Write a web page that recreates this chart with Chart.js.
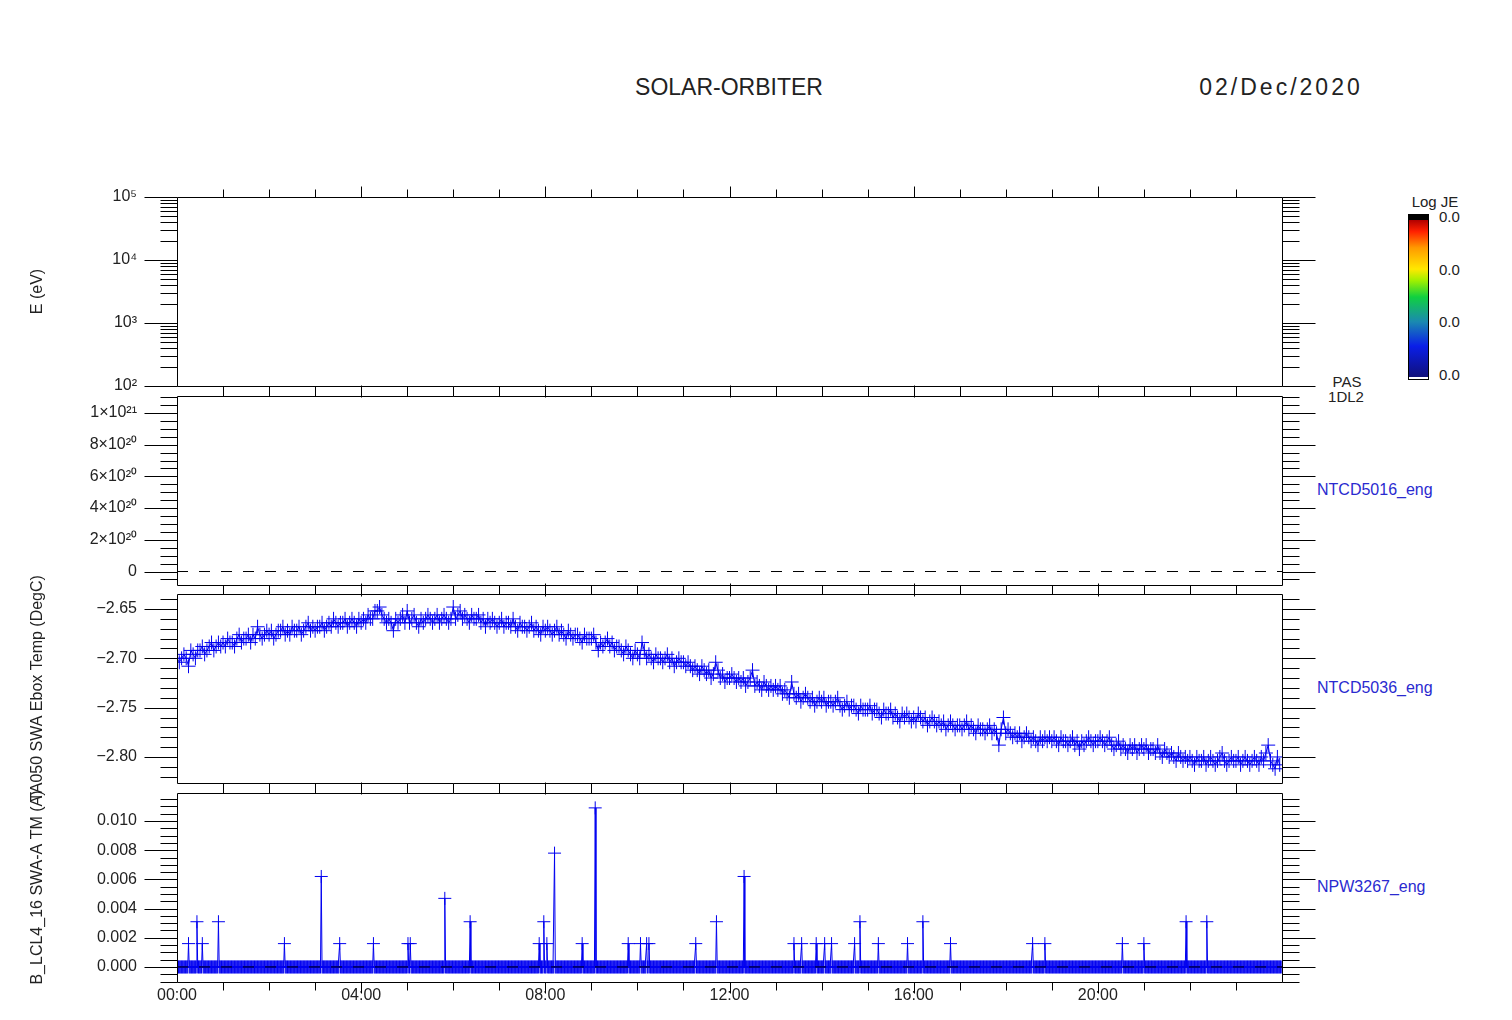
<!DOCTYPE html>
<html>
<head>
<meta charset="utf-8">
<script src="https://cdn.jsdelivr.net/npm/chart.js@4.4.0/dist/chart.umd.min.js"></script>
<style>
  body { margin:0; background:#fff; width:1512px; height:1020px; position:relative; overflow:hidden; font-family:'Liberation Sans', Arial, sans-serif; }
  canvas { position:absolute; left:0; top:0; }
  .txt { position:absolute; white-space:nowrap; color:#222; font-size:16px; transform:translate(-50%,-50%); }
  .lft { transform:translate(0,-50%); }
  .blue { color:#2a2ad0; }
  #cbar { position:absolute; left:1408px; top:214px; width:19px; height:164px; border:1px solid #000;
    background:linear-gradient(to top, #fff 0, #fff 2px, #10107a 2px, #0a1ee8 20%, #1a8ab0 35%, #10d040 50%, #a0f000 60%, #ffe800 67%, #ff9a00 80%, #ff2000 90%, #b00000 97%, #000 97%, #000 100%); }
</style>
</head>
<body>
<div class="txt" style="left:729px;top:87px;font-size:23px">SOLAR-ORBITER</div>
<div class="txt" style="left:1281px;top:87px;font-size:23px;letter-spacing:3px">02/Dec/2020</div>
<div class="txt" style="left:1435px;top:201px;font-size:15px">Log JE</div>
<div class="txt lft" style="left:1439px;top:216px;font-size:15px">0.0</div>
<div class="txt lft" style="left:1439px;top:269px;font-size:15px">0.0</div>
<div class="txt lft" style="left:1439px;top:321px;font-size:15px">0.0</div>
<div class="txt lft" style="left:1439px;top:374px;font-size:15px">0.0</div>
<div id="cbar"></div>
<div class="txt" style="left:1347px;top:381px;font-size:15px">PAS</div>
<div class="txt" style="left:1346px;top:396px;font-size:15px">1DL2</div>
<div class="txt lft blue" style="left:1317px;top:490px">NTCD5016_eng</div>
<div class="txt lft blue" style="left:1317px;top:688px">NTCD5036_eng</div>
<div class="txt lft blue" style="left:1317px;top:887px">NPW3267_eng</div>

<canvas id="c1" width="1512" height="1020"></canvas>
<canvas id="c2" width="1512" height="1020"></canvas>
<canvas id="c3" width="1512" height="1020"></canvas>
<canvas id="c4" width="1512" height="1020"></canvas>

<script>
// --- DATOS ---
const hourTicks = [0, 4, 8, 12, 16, 20];
const energyTicks = [1e2, 1e3, 1e4, 1e5];
const densityTicks = [0, 2e20, 4e20, 6e20, 8e20, 1e21];
const tempTicks = [-2.80, -2.75, -2.70, -2.65];
const currentTicks = [0, 0.002, 0.004, 0.006, 0.008, 0.010];

// NTCD5036: temperatura cada 3 min desde 00:00 (una fila por hora, valores cuantizados)
const tempStepMin = 3;
const tempValues = [
  -2.700, -2.704, -2.700, -2.696, -2.700, -2.708, -2.692, -2.696, -2.700, -2.692, -2.692, -2.688, -2.696, -2.692, -2.688, -2.684, -2.692, -2.688, -2.684, -2.688,
  -2.684, -2.688, -2.680, -2.684, -2.684, -2.688, -2.680, -2.676, -2.684, -2.680, -2.680, -2.676, -2.684, -2.676, -2.680, -2.668, -2.676, -2.680, -2.676, -2.672,
  -2.676, -2.672, -2.680, -2.676, -2.672, -2.672, -2.668, -2.676, -2.672, -2.676, -2.668, -2.672, -2.672, -2.668, -2.676, -2.672, -2.668, -2.664, -2.672, -2.668,
  -2.672, -2.668, -2.668, -2.664, -2.672, -2.668, -2.664, -2.668, -2.660, -2.664, -2.668, -2.664, -2.664, -2.660, -2.668, -2.664, -2.660, -2.664, -2.668, -2.660,
  -2.664, -2.660, -2.664, -2.656, -2.660, -2.660, -2.652, -2.652, -2.648, -2.656, -2.660, -2.664, -2.660, -2.664, -2.672, -2.660, -2.664, -2.660, -2.656, -2.664,
  -2.652, -2.664, -2.660, -2.656, -2.664, -2.668, -2.660, -2.664, -2.660, -2.656, -2.660, -2.664, -2.660, -2.656, -2.664, -2.660, -2.656, -2.660, -2.664, -2.660,
  -2.648, -2.660, -2.656, -2.652, -2.660, -2.656, -2.660, -2.664, -2.656, -2.660, -2.660, -2.656, -2.664, -2.660, -2.668, -2.660, -2.664, -2.660, -2.664, -2.668,
  -2.664, -2.660, -2.668, -2.664, -2.664, -2.668, -2.660, -2.668, -2.672, -2.664, -2.668, -2.668, -2.672, -2.668, -2.664, -2.672, -2.668, -2.672, -2.676, -2.668,
  -2.672, -2.668, -2.672, -2.676, -2.672, -2.668, -2.676, -2.672, -2.676, -2.680, -2.672, -2.676, -2.680, -2.676, -2.676, -2.680, -2.684, -2.676, -2.680, -2.680,
  -2.680, -2.676, -2.684, -2.692, -2.684, -2.688, -2.684, -2.680, -2.688, -2.684, -2.692, -2.688, -2.688, -2.692, -2.696, -2.688, -2.692, -2.696, -2.700, -2.692,
  -2.696, -2.700, -2.684, -2.692, -2.700, -2.696, -2.700, -2.704, -2.696, -2.700, -2.700, -2.704, -2.700, -2.696, -2.704, -2.700, -2.708, -2.704, -2.700, -2.704,
  -2.704, -2.708, -2.704, -2.708, -2.712, -2.708, -2.712, -2.716, -2.708, -2.712, -2.716, -2.712, -2.720, -2.716, -2.704, -2.712, -2.720, -2.716, -2.724, -2.720,
  -2.720, -2.716, -2.720, -2.724, -2.720, -2.724, -2.720, -2.728, -2.724, -2.720, -2.712, -2.728, -2.724, -2.728, -2.732, -2.724, -2.728, -2.732, -2.728, -2.732,
  -2.728, -2.732, -2.728, -2.736, -2.732, -2.736, -2.740, -2.724, -2.736, -2.740, -2.736, -2.744, -2.740, -2.736, -2.740, -2.744, -2.740, -2.748, -2.744, -2.740,
  -2.744, -2.740, -2.748, -2.744, -2.744, -2.748, -2.744, -2.740, -2.748, -2.752, -2.748, -2.744, -2.752, -2.748, -2.748, -2.752, -2.756, -2.748, -2.752, -2.752,
  -2.752, -2.748, -2.756, -2.752, -2.752, -2.756, -2.760, -2.752, -2.756, -2.756, -2.752, -2.760, -2.756, -2.760, -2.764, -2.756, -2.760, -2.756, -2.760, -2.764,
  -2.760, -2.764, -2.756, -2.760, -2.764, -2.760, -2.768, -2.764, -2.760, -2.764, -2.768, -2.764, -2.768, -2.764, -2.772, -2.768, -2.764, -2.768, -2.772, -2.768,
  -2.768, -2.772, -2.768, -2.764, -2.772, -2.768, -2.772, -2.776, -2.768, -2.772, -2.772, -2.776, -2.772, -2.768, -2.776, -2.772, -2.776, -2.788, -2.772, -2.760,
  -2.776, -2.772, -2.776, -2.780, -2.776, -2.780, -2.776, -2.784, -2.780, -2.776, -2.780, -2.784, -2.780, -2.784, -2.788, -2.780, -2.784, -2.780, -2.784, -2.780,
  -2.784, -2.780, -2.784, -2.788, -2.780, -2.784, -2.784, -2.788, -2.784, -2.780, -2.788, -2.784, -2.792, -2.784, -2.788, -2.784, -2.780, -2.784, -2.788, -2.784,
  -2.784, -2.780, -2.784, -2.788, -2.784, -2.780, -2.788, -2.792, -2.788, -2.784, -2.792, -2.788, -2.792, -2.796, -2.788, -2.792, -2.788, -2.796, -2.792, -2.788,
  -2.792, -2.788, -2.796, -2.792, -2.792, -2.796, -2.788, -2.796, -2.800, -2.792, -2.796, -2.800, -2.796, -2.800, -2.804, -2.796, -2.800, -2.804, -2.800, -2.804,
  -2.800, -2.804, -2.808, -2.800, -2.804, -2.804, -2.800, -2.808, -2.804, -2.800, -2.804, -2.808, -2.804, -2.800, -2.796, -2.804, -2.808, -2.804, -2.800, -2.804,
  -2.804, -2.800, -2.808, -2.804, -2.800, -2.804, -2.808, -2.804, -2.800, -2.804, -2.808, -2.800, -2.804, -2.796, -2.788, -2.804, -2.808, -2.812, -2.800, -2.808
];

// NPW3267: base en 0 cada minuto, con picos (hora decimal, valor)
const currentStepMin = 1;
const spikeHours = [0.25, 0.43, 0.55, 0.90, 2.33, 3.13, 3.53, 4.26, 5.01, 5.06, 5.81, 6.36,
  7.87, 7.97, 8.03, 8.20, 8.80, 9.09, 9.80, 10.06, 10.20, 10.25, 11.27, 11.71, 12.32,
  13.40, 13.57, 13.89, 14.07, 14.22, 14.71, 14.84, 15.23, 15.86, 16.20, 16.80,
  18.58, 18.85, 20.54, 21.00, 21.91, 22.37];
const spikeValues = [0.0016, 0.0031, 0.0016, 0.0031, 0.0016, 0.0062, 0.0016, 0.0016, 0.0016, 0.0016, 0.0047, 0.0031,
  0.0016, 0.0031, 0.0016, 0.0078, 0.0016, 0.0109, 0.0016, 0.0016, 0.0016, 0.0016, 0.0016, 0.0031, 0.0062,
  0.0016, 0.0016, 0.0016, 0.0016, 0.0016, 0.0016, 0.0031, 0.0016, 0.0016, 0.0031, 0.0016,
  0.0016, 0.0016, 0.0016, 0.0016, 0.0031, 0.0031];

const BLUE = '#0000f0';
const FONT = { family: "'Liberation Sans', Arial, sans-serif", size: 16 };
const SUP = { '0': '⁰', '1': '¹', '2': '²', '3': '³', '4': '⁴', '5': '⁵', '6': '⁶', '7': '⁷', '8': '⁸', '9': '⁹' };
const sup = (s) => String(s).split('').map(c => SUP[c]).join('');

// --- EJES ESTILO IDL ---
function minorValues(scale, step) {
  const out = [];
  if (step === 'log') {
    for (let e = 2; e < 5; e++) for (let k = 2; k <= 9; k++) out.push(k * Math.pow(10, e));
    return out;
  }
  for (let i = Math.ceil(scale.min / step); i * step <= scale.max; i++) out.push(i * step);
  return out;
}

const idlFrame = {
  id: 'idlFrame',
  afterDatasetsDraw(chart, args, opts) {
    const { ctx, chartArea: a, scales } = chart;
    const xs = scales.x, ys = scales.y;
    const L = Math.round(a.left) + 0.5, R = Math.round(a.right) + 0.5;
    const T = Math.round(a.top) + 0.5, B = Math.round(a.bottom) + 0.5;
    ctx.save();
    ctx.strokeStyle = '#000';
    ctx.lineWidth = 1;
    ctx.beginPath();
    ctx.rect(L, T, R - L, B - T);
    for (let h = 1; h < 24; h++) {
      const px = Math.round(xs.getPixelForValue(h)) + 0.5;
      const len = h % 4 === 0 ? 11 : 8;
      ctx.moveTo(px, T); ctx.lineTo(px, T - len);
      ctx.moveTo(px, B); ctx.lineTo(px, B + len);
    }
    const tick = (v, len) => {
      const py = Math.round(ys.getPixelForValue(v)) + 0.5;
      ctx.moveTo(L - len, py); ctx.lineTo(L, py);
      ctx.moveTo(R, py); ctx.lineTo(R + len, py);
    };
    minorValues(ys, opts.minor).forEach(v => tick(v, 17));
    ys.ticks.forEach(t => tick(t.value, 33));
    ctx.stroke();
    ctx.restore();
  }
};

function panel(id, top, bottom, y, datasets, minor, showX) {
  return new Chart(document.getElementById(id), {
    type: 'line',
    data: { datasets },
    options: {
      responsive: false,
      devicePixelRatio: 1,
      animation: false,
      events: [],
      layout: { padding: { left: 0, right: 230, top, bottom: showX ? 0 : 1020 - bottom } },
      plugins: { legend: { display: false }, tooltip: { enabled: false }, idlFrame: { minor } },
      scales: {
        x: {
          type: 'linear', min: 0, max: 24, display: showX,
          grid: { display: false, drawTicks: false }, border: { display: false },
          afterFit: s => { if (showX) s.height = 1020 - bottom; },
          afterBuildTicks: s => { s.ticks = hourTicks.map(value => ({ value })); },
          ticks: { autoSkip: false, maxRotation: 0, padding: 4, color: '#222', font: FONT,
            callback: v => String(v).padStart(2, '0') + ':00' }
        },
        y: Object.assign({
          // marcas invisibles: sólo separan las etiquetas del eje
          grid: { display: true, drawOnChartArea: false, drawTicks: true, tickLength: 39, tickColor: 'rgba(0,0,0,0)' },
          border: { display: false },
          afterFit: s => { s.width = 177; },
        }, y)
      }
    },
    plugins: [idlFrame]
  });
}

const yTitle = (text) => ({ display: true, text, color: '#222', font: FONT, padding: { top: 28 } });
const yTicks = (callback) => ({ autoSkip: false, padding: 1, color: '#222', font: FONT, callback });
const zeroLine = () => ({ data: [{ x: 0, y: 0 }, { x: 24, y: 0 }], borderColor: '#000', borderWidth: 1,
  borderDash: [11, 11], pointRadius: 0 });

// --- PANEL 1: espectrograma vacío ---
panel('c1', 197, 386, {
  type: 'logarithmic', min: 1e2, max: 1e5,
  title: yTitle('E (eV)'),
  afterBuildTicks: s => { s.ticks = energyTicks.map(value => ({ value })); },
  ticks: yTicks(v => '10' + sup(Math.round(Math.log10(v))))
}, [], 'log', false);

// --- PANEL 2: NTCD5016 ---
panel('c2', 396, 585, {
  type: 'linear', min: -8.51e19, max: 1.107e21,
  afterBuildTicks: s => { s.ticks = densityTicks.map(value => ({ value })); },
  ticks: yTicks(v => v === 0 ? '0' : (v >= 1e21 ? '1×10' + sup(21) : Math.round(v / 1e20) + '×10' + sup(20)))
}, [zeroLine()], 5e19, false);

// --- PANEL 3: NTCD5036 temperatura ---
const tempData = tempValues.map((v, i) => ({ x: i * tempStepMin / 60, y: v }));
panel('c3', 594, 783, {
  type: 'linear', min: -2.8264, max: -2.6348,
  title: yTitle('TA050 SWA Ebox Temp (DegC)'),
  afterBuildTicks: s => { s.ticks = tempTicks.map(value => ({ value })); },
  ticks: yTicks(v => '\u2212' + Math.abs(v).toFixed(2))
}, [{
  data: tempData, borderColor: BLUE, borderWidth: 1,
  pointStyle: 'cross', pointRadius: 7, pointBorderColor: BLUE, pointBorderWidth: 1
}], 0.01, false);

// --- PANEL 4: NPW3267 corriente ---
const currentData = [];
for (let m = 0; m < 24 * 60; m += currentStepMin) currentData.push({ x: m / 60, y: 0 });
spikeHours.forEach((h, i) => { currentData[Math.round(h * 60 / currentStepMin)].y = spikeValues[i]; });
panel('c4', 793, 982, {
  type: 'linear', min: -0.00103, max: 0.01192,
  title: yTitle('B_LCL4_16 SWA-A TM (A)'),
  afterBuildTicks: s => { s.ticks = currentTicks.map(value => ({ value })); },
  ticks: yTicks(v => v.toFixed(3))
}, [zeroLine(), {
  data: currentData, borderColor: BLUE, borderWidth: 1,
  pointStyle: 'cross', pointRadius: 6.5, pointBorderColor: BLUE, pointBorderWidth: 1
}], 0.0005, true);
</script>
</body>
</html>
